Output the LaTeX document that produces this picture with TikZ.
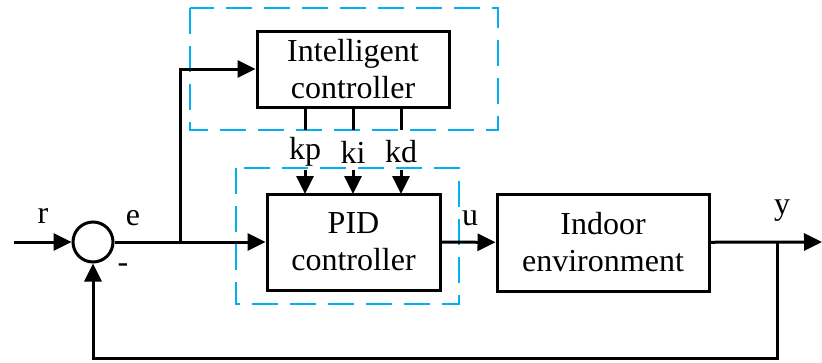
\documentclass[tikz,border=0pt]{standalone}
\usepackage{fontspec}
\newfontfamily\tnr{Liberation Serif}
\newcommand\txtfont{\tnr\fontsize{32}{37}\selectfont}
\usetikzlibrary{arrows.meta}
\definecolor{dashblue}{RGB}{0,176,240}
\begin{document}
\begin{tikzpicture}[x=1pt,y=-1pt,
  every node/.style={inner sep=0pt, font=\txtfont},
  blk/.style={draw, line width=3pt, align=center},
  wire/.style={line width=3pt},
  arr/.style={line width=3pt, -{Triangle[length=18pt,width=17pt]}},
  grp/.style={draw=dashblue, line width=1.6pt, dash pattern=on 26pt off 12pt}]
\useasboundingbox (0,0) rectangle (822,362);
% groups
\draw[grp] (190,8) rectangle (498,130);
\draw[grp] (236,168) rectangle (459,304);
% blocks
\node[blk, minimum width=192pt, minimum height=76pt] (ic) at (353,69) {\txtfont Intelligent\\\txtfont controller};
\node[blk, minimum width=173pt, minimum height=96pt] (pid) at (353.5,242) {\txtfont PID\\\txtfont controller};
\node[blk, minimum width=212pt, minimum height=97pt] (env) at (603,242.5) {\txtfont Indoor\\\txtfont environment};
\node[draw, circle, line width=3pt, minimum size=40pt] (sum) at (93,242) {};
% coordinates
\coordinate (in) at (14,242);
\coordinate (j1) at (180,242);
\coordinate (j2) at (777,242);
\coordinate (out) at (822,242);
\coordinate (fb1) at (777,358);
\coordinate (fb2) at (93,358);
\coordinate (up) at (180,69);
\foreach \n/\x in {p/305,i/353,d/401}{
  \coordinate (s\n) at (\x,107);
  \coordinate (e\n) at (\x,130);
  \coordinate (a\n) at (\x,170);
  \coordinate (t\n) at (\x,194);
}
% connectors
\draw[arr] (in) -- (sum);
\draw[arr] (sum) -- (pid);
\draw[arr] (j1) -- (up) -- (ic);
\draw[arr] (pid) -- (env);
\draw[arr] (env) -- (out);
\draw[arr] (j2) -- (fb1) -- (fb2) -- (sum);
\foreach \n in {p,i,d}{
  \draw[wire] (s\n) -- (e\n);
  \draw[arr] (a\n) -- (t\n);
}
% labels
\node (lkp) at (305,152) {\txtfont kp};
\node (lki) at (353,152) {\txtfont ki};
\node (lkd) at (401,152) {\txtfont kd};
\node (lr) at (43,216) {\txtfont r};
\node (le) at (133,218) {\txtfont e};
\node (lm) at (123,268) {\txtfont -};
\node (lu) at (470,218) {\txtfont u};
\node (ly) at (782,211) {\txtfont y};
\end{tikzpicture}
\end{document}
